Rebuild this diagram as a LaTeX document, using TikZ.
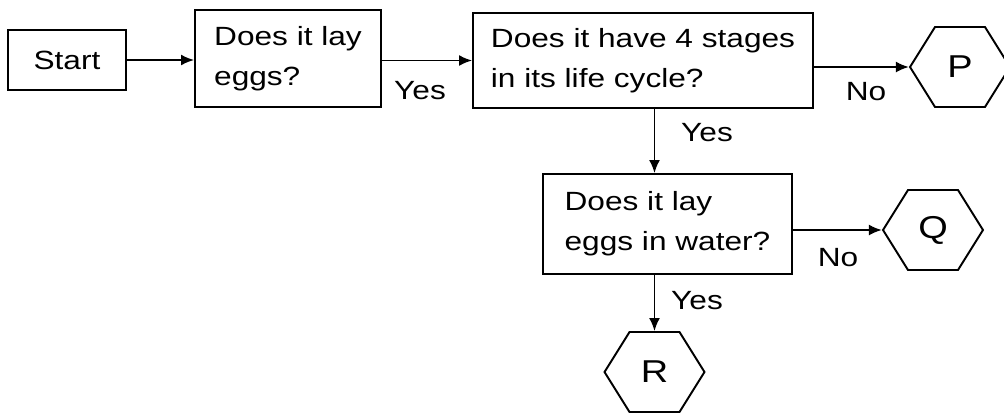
\documentclass[tikz,border=0pt]{standalone}
\usepackage{fontspec}
\setmainfont{Liberation Sans}[FakeStretch=1.2]
\usetikzlibrary{arrows.meta,shapes.symbols}

\begin{document}
\begin{tikzpicture}[x=0.02cm,y=-0.02cm,
  every node/.style={font=\fontsize{15}{22.7}\selectfont},
  box/.style={draw,line width=1.1pt,align=left,inner sep=0pt},
  hexa/.style={draw,line width=1.1pt,signal,signal to=west and east,signal pointer angle=116,
    minimum width=2cm,minimum height=1.6cm,inner sep=0pt,font=\fontsize{18}{20}\selectfont},
  arr/.style={line width=1.1pt,-{Latex[length=0.26cm,width=0.22cm]}}]
\useasboundingbox (0,0) rectangle (1004,417);

\node [box,minimum width=2.36cm,minimum height=1.2cm](start) at (67,60) {Start};
\node [box,minimum width=3.72cm,minimum height=1.94cm](eggs) at (288,58.5) {Does it lay\\eggs?};
\node [box,minimum width=6.8cm,minimum height=1.9cm](stages) at (643,60.5) {Does it have 4 stages\\in its life cycle?};
\node [box,minimum width=4.98cm,minimum height=2cm](water) at (667.5,224) {Does it lay\\eggs in water?};

\node [hexa](P) at (960,67) {P};
\node [hexa](Q) at (933,230) {Q};
\node [hexa](R) at (654.5,372) {R};

\draw [arr](start.east) -- (start.east -| eggs.west);
\draw [arr](stages.west -| eggs.east) -- (stages.west);
\draw [arr](P.west -| stages.east) -- (P.west);
\draw [arr](stages.south -| R.center) -- (water.north -| R.center);
\draw [arr](Q.west -| water.east) -- (Q.west);
\draw [arr](water.south -| R.center) -- (R.north);

\node (yes1) at (420,91) {Yes};
\node (no1) at (866,92) {No};
\node (yes2) at (707,133) {Yes};
\node (no2) at (838,258) {No};
\node (yes3) at (697,301) {Yes};

\end{tikzpicture}
\end{document}
